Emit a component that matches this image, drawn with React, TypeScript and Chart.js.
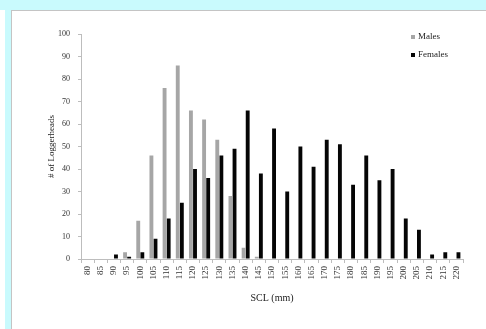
import React, { useEffect, useRef } from "react";
import { Chart, registerables } from "chart.js";

Chart.register(...registerables);

const categories = ["80","85","90","95","100","105","110","115","120","125","130","135","140","145","150","155","160","165","170","175","180","185","190","195","200","205","210","215","220"];
const males = [0,0,0,3,17,46,76,86,66,62,53,28,5,1,0,0,0,0,0,0,0,0,0,0,0,0,0,0,0];
const females = [0,0,2,1,3,9,18,25,40,36,46,49,66,38,58,30,50,41,53,51,33,46,35,40,18,13,2,3,3];
const yTicks = [0,10,20,30,40,50,60,70,80,90,100];

const SERIF = "'Liberation Serif', 'DejaVu Serif', serif";

const legendPlugin = {
  id: "customLegend",
  afterDraw(chart: any) {
    const ctx = chart.ctx;
    ctx.save();
    ctx.font = `9px ${SERIF}`;
    ctx.textBaseline = "middle";
    chart.data.datasets.forEach((ds: any, i: number) => {
      const y = 37 + i * 18;
      ctx.fillStyle = ds.backgroundColor;
      ctx.fillRect(411, y - 2, 4, 4);
      ctx.fillStyle = "#222";
      ctx.fillText(ds.label, 418, y);
    });
    ctx.restore();
  },
};

export default function App() {
  const ref = useRef<HTMLCanvasElement>(null);
  useEffect(() => {
    const chart = new Chart(ref.current!, {
      type: "bar",
      data: {
        labels: categories,
        datasets: [
          { label: "Males", data: males, backgroundColor: "#a6a6a6", categoryPercentage: 0.62, barPercentage: 0.95 },
          { label: "Females", data: females, backgroundColor: "#050505", categoryPercentage: 0.62, barPercentage: 0.95 },
        ],
      },
      options: {
        animation: false,
        responsive: false,
        layout: { padding: { left: 44, top: 34, right: 23, bottom: 25 } },
        plugins: { legend: { display: false }, tooltip: { enabled: false } },
        scales: {
          x: {
            grid: { display: true, drawOnChartArea: false, drawTicks: true, tickLength: 4, color: "#bdbdbd", offset: true },
            border: { display: true, color: "#bdbdbd" },
            ticks: { autoSkip: false, maxRotation: 90, minRotation: 90, padding: 3, color: "#333", font: { family: SERIF, size: 9 } },
            title: { display: true, text: "SCL (mm)", color: "#222", font: { family: SERIF, size: 10 }, padding: { top: 4, bottom: 0 } },
            afterFit: (s: any) => { s.height = 45; },
          },
          y: {
            min: 0,
            max: 100,
            afterBuildTicks: (s: any) => { s.ticks = yTicks.map((v) => ({ value: v })); },
            grid: { display: true, drawOnChartArea: false, drawTicks: true, tickLength: 3, color: "#bdbdbd" },
            border: { display: true, color: "#bdbdbd" },
            ticks: { padding: 8, color: "#333", font: { family: SERIF, size: 8 } },
            title: { display: true, text: "# of Loggerheads", color: "#222", font: { family: SERIF, size: 9 }, padding: { top: 2, bottom: 0 } },
            afterFit: (s: any) => { s.width = 37; },
          },
        },
      },
      plugins: [legendPlugin],
    });
    return () => chart.destroy();
  }, []);

  return (
    <div style={{ position: "fixed", left: 0, top: 0, width: 486, height: 329, background: "#fff", overflow: "hidden" }}>
      <div style={{ position: "absolute", left: 0, top: 0, width: 486, height: 10, background: "#c9fafd" }} />
      <div style={{ position: "absolute", left: 5, top: 0, width: 6, height: 329, background: "#c9fafd" }} />
      <div style={{ position: "absolute", left: 11, top: 10, width: 475, height: 319, borderLeft: "1px solid #c4c4c4", borderTop: "1px solid #c4c4c4", boxSizing: "border-box" }} />
      <canvas ref={ref} width={486} height={329} style={{ position: "absolute", left: 0, top: 0, width: 486, height: 329 }} />
    </div>
  );
}
